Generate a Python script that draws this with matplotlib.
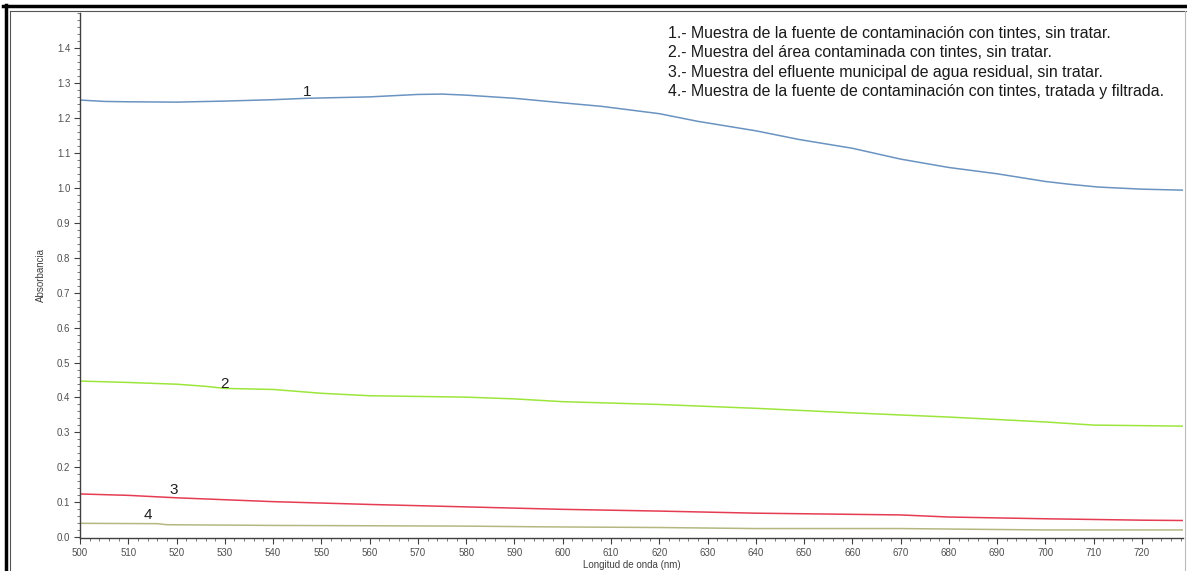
import matplotlib.pyplot as plt
from matplotlib.lines import Line2D
from matplotlib.ticker import MultipleLocator, FormatStrFormatter

plt.rcParams['font.family'] = ['Liberation Sans', 'DejaVu Sans']

# Absorbance spectra (nm vs absorbance)
wl_1 = [500, 505, 510, 520, 530, 540, 547, 560, 570, 575, 580, 590, 600, 608, 620, 628,
        640, 649, 660, 670, 680, 690, 700, 705, 711, 720, 729]
abs_1 = [1.251, 1.247, 1.246, 1.245, 1.248, 1.252, 1.256, 1.260, 1.267, 1.268, 1.265, 1.256,
         1.243, 1.233, 1.212, 1.190, 1.163, 1.138, 1.113, 1.082, 1.058, 1.040, 1.018, 1.010,
         1.002, 0.996, 0.993]

wl_2 = [500, 510, 520, 526, 530, 540, 550, 560, 580, 590, 600, 620, 640, 660, 680, 700, 710, 729]
abs_2 = [0.447, 0.443, 0.438, 0.432, 0.426, 0.423, 0.412, 0.405, 0.401, 0.396, 0.388, 0.380,
         0.369, 0.356, 0.344, 0.330, 0.321, 0.318]

wl_3 = [500, 510, 520, 540, 560, 580, 600, 620, 640, 670, 680, 700, 720, 729]
abs_3 = [0.124, 0.120, 0.113, 0.102, 0.094, 0.087, 0.080, 0.075, 0.069, 0.064, 0.058, 0.053,
         0.049, 0.048]

wl_4 = [500, 516, 518, 540, 580, 595, 620, 640, 670, 700, 729]
abs_4 = [0.040, 0.039, 0.036, 0.034, 0.032, 0.030, 0.028, 0.025, 0.025, 0.021, 0.021]

curve_labels = ['1', '2', '3', '4']
label_pos = [(547, 1.274), (530, 0.44), (519.5, 0.134), (514, 0.063)]

legend_lines = [
    '1.- Muestra de la fuente de contaminación con tintes, sin tratar.',
    '2.- Muestra del área contaminada con tintes, sin tratar.',
    '3.- Muestra del efluente municipal de agua residual, sin tratar.',
    '4.- Muestra de la fuente de contaminación con tintes, tratada y filtrada.',
]

fig = plt.figure(figsize=(11.87, 5.71), dpi=100)
ax = fig.add_axes([80 / 1187, 33 / 571, 1103 / 1187, 525 / 571])

ax.plot(wl_1, abs_1, color='#6a93c2', lw=1.1)
ax.plot(wl_2, abs_2, color='#9ce63c', lw=1.1)
ax.plot(wl_3, abs_3, color='#e63c52', lw=1.1)
ax.plot(wl_4, abs_4, color='#b4b880', lw=1.1)

for lab, (x, y) in zip(curve_labels, label_pos):
    ax.text(x, y, lab, fontsize=11, color='#202020', ha='center', va='center')

ax.set_xlim(500, 728.5)
ax.set_ylim(-0.002, 1.5)
ax.xaxis.set_major_locator(MultipleLocator(10))
ax.xaxis.set_minor_locator(MultipleLocator(2))
ax.yaxis.set_minor_locator(MultipleLocator(0.02))
ax.yaxis.set_major_formatter(FormatStrFormatter('%.1f'))
ax.set_yticks([i / 10 for i in range(15)])

for side in ['top', 'right']:
    ax.spines[side].set_visible(False)
for side in ['left', 'bottom']:
    ax.spines[side].set_color('#404040')
    ax.spines[side].set_linewidth(1.0)

ax.tick_params(which='major', length=4, width=0.8, color='#404040',
               labelsize=7, labelcolor='#505050', pad=3)
ax.tick_params(which='minor', length=2, width=0.6, color='#606060')

ax.set_xlabel('Longitud de onda (nm)', fontsize=7, color='#404040', labelpad=2)
ax.set_ylabel('Absorbancia', fontsize=7, color='#404040', labelpad=8)

for i, line in enumerate(legend_lines):
    fig.text(668 / 1187, 1 - (33 + 19.5 * i) / 571, line, fontsize=11.4,
             color='#1a1a1a', va='center', ha='left')

# window frame around the plot
W, H = 1187, 571
fig.add_artist(Line2D([3 / W, 1], [1 - 6 / H, 1 - 6 / H], color='black', lw=2.5))
fig.add_artist(Line2D([5.5 / W, 5.5 / W], [0, 1 - 5 / H], color='black', lw=2.5))
fig.add_artist(Line2D([10 / W, 1], [1 - 11 / H, 1 - 11 / H], color='#555555', lw=0.8))
fig.add_artist(Line2D([10 / W, 10 / W], [0, 1 - 11 / H], color='#555555', lw=0.8))
fig.add_artist(Line2D([1185 / W, 1185 / W], [0, 1 - 11 / H], color='#bbbbbb', lw=0.8))

fig.savefig('out.png', dpi=100)
